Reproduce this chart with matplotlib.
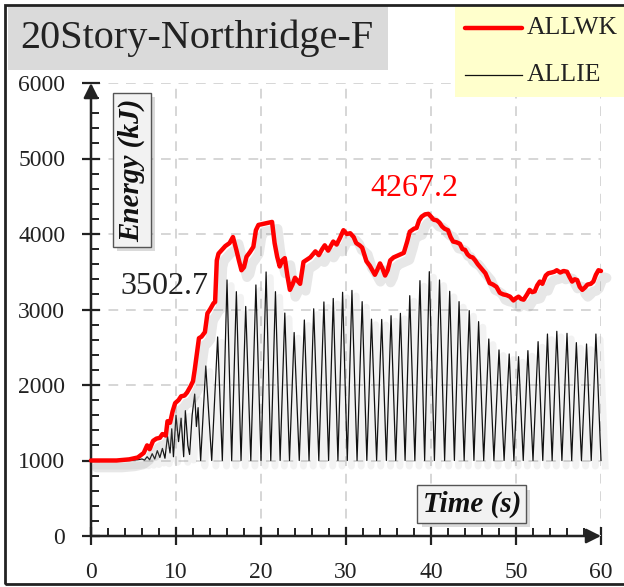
import numpy as np
import matplotlib
matplotlib.use("Agg")
import matplotlib.pyplot as plt
import matplotlib.ticker as ticker
import matplotlib.patheffects as pe
from matplotlib import font_manager
from matplotlib.patches import Rectangle
from matplotlib.lines import Line2D

# make sure the Times-like serif is picked up
for f in font_manager.findSystemFonts():
    if 'LiberationSerif' in f:
        font_manager.fontManager.addfont(f)
plt.rcParams['font.family'] = ['Liberation Serif', 'DejaVu Serif']

# ALLWK (red, external work)
wk_t = [0, 3, 4.5, 5.5, 6.2, 6.6, 6.9, 7.3, 7.7, 8.1, 8.4, 8.8, 9.0, 9.3, 9.6, 9.9,
        10.3, 10.6, 11.0, 11.3, 11.7, 12.0, 12.2, 12.5, 12.7, 13.0, 13.4, 13.7, 14.0,
        14.4, 14.6, 14.8, 15.0, 15.4, 15.8, 16.3, 16.7, 17.1, 17.4, 17.7, 18.0, 18.3,
        18.7, 19.1, 19.4, 19.7, 20.5, 21.3, 21.6, 21.9, 22.2, 22.5, 22.8, 23.1, 23.4,
        23.7, 24.0, 24.3, 24.6, 25.0, 25.4, 25.8, 26.4, 26.8, 27.2, 27.5, 27.9, 28.5,
        28.9, 29.3, 29.7, 30.1, 30.5, 30.9, 31.2, 31.6, 31.9, 32.4, 32.8, 33.1, 33.4,
        33.7, 34.0, 34.3, 34.6, 34.9, 35.2, 35.6, 36.2, 36.8, 37.2, 37.5, 38.0, 38.3,
        38.6, 38.9, 39.3, 39.7, 40.0, 40.3, 40.7, 41.0, 41.3, 41.6, 42.0, 42.3, 42.6,
        43.0, 43.4, 43.7, 44.0, 44.3, 44.6, 44.9, 45.2, 45.5, 45.8, 46.1, 46.4, 46.7,
        46.9, 47.3, 47.7, 48.1, 48.5, 48.9, 49.3, 49.7, 50.0, 50.3, 50.6, 50.9, 51.3,
        51.6, 51.9, 52.2, 52.5, 52.8, 53.1, 53.5, 53.8, 54.2, 54.5, 54.8, 55.2, 55.6,
        56.0, 56.3, 56.6, 56.9, 57.2, 57.5, 57.8, 58.1, 58.4, 58.8, 59.1, 59.4, 59.7, 60.0]
wk_v = [1000, 1000, 1015, 1040, 1100, 1200, 1150, 1260, 1290, 1300, 1350, 1330, 1520,
        1500, 1650, 1760, 1800, 1850, 1860, 1900, 1980, 2050, 2200, 2450, 2620, 2640,
        2700, 2950, 3000, 3080, 3100, 3650, 3740, 3790, 3840, 3880, 3960, 3790, 3650,
        3520, 3560, 3700, 3760, 3830, 4050, 4120, 4140, 4160, 3880, 3700, 3570, 3650,
        3680, 3450, 3260, 3330, 3420, 3380, 3340, 3630, 3660, 3690, 3770, 3720, 3800,
        3850, 3780, 3900, 3860, 3950, 4050, 4000, 4010, 3960, 3880, 3850, 3820, 3640,
        3580, 3520, 3460, 3530, 3610, 3540, 3450, 3520, 3650, 3690, 3720, 3750, 3900,
        4030, 4070, 4080, 4180, 4230, 4260, 4267, 4230, 4190, 4180, 4150, 4100, 4070,
        4050, 3960, 3900, 3890, 3870, 3800, 3790, 3730, 3700, 3690, 3650, 3600, 3560,
        3520, 3480, 3400, 3350, 3330, 3300, 3220, 3200, 3190, 3170, 3120, 3150, 3170,
        3140, 3130, 3200, 3260, 3230, 3240, 3320, 3370, 3340, 3450, 3480, 3490, 3500,
        3520, 3490, 3510, 3500, 3430, 3370, 3400, 3390, 3300, 3260, 3290, 3330, 3340,
        3370, 3460, 3520, 3510]

# ALLIE (black, internal energy) - troughs and peaks
ie_t = [0, 4.0, 5.5, 6.0, 6.3, 6.6, 6.9, 7.2, 7.5, 7.8, 8.1, 8.4, 8.7, 9.0, 9.3, 9.5,
        9.7, 10.0, 10.3, 10.6, 10.9, 11.1, 11.4, 11.6, 11.9, 12.2, 12.4, 12.6, 12.9,
        13.5, 14.2, 14.9, 15.45, 16.0, 16.55, 17.1, 17.65, 18.2, 18.8, 19.4, 20.0,
        20.6, 21.15, 21.7, 22.25, 22.8, 23.35, 23.9, 24.5, 25.1, 25.65, 26.2, 26.8,
        27.4, 27.95, 28.5, 29.05, 29.6, 30.15, 30.7, 31.3, 31.9, 32.45, 33.0, 33.6,
        34.2, 34.75, 35.3, 35.85, 36.4, 36.95, 37.5, 38.1, 38.7, 39.25, 39.8, 40.4,
        41.0, 41.6, 42.2, 42.75, 43.3, 43.9, 44.5, 45.05, 45.6, 46.2, 46.8, 47.4,
        48.0, 48.6, 49.2, 49.75, 50.3, 50.85, 51.4, 52.0, 52.6, 53.15, 53.7, 54.25,
        54.8, 55.4, 56.0, 56.55, 57.1, 57.7, 58.3, 58.85, 59.4, 60.0]
ie_v = [1000, 1000, 1010, 1020, 1005, 1050, 1010, 1090, 1020, 1130, 1040, 1160, 1030,
        1320, 1100, 1420, 1050, 1600, 1250, 1560, 1050, 1660, 1200, 1080, 1600, 1880,
        1450, 1700, 1000,
        2252, 1000, 2636, 1000, 3391, 1000, 3236, 1000, 3040, 1000, 3325, 1000,
        3497, 1000, 3236, 1000, 2953, 1000, 2695, 1000, 2861, 1000, 3009, 1000,
        3100, 1000, 3146, 1000, 3228, 1000, 3253, 1000, 3104, 1000, 2872, 1000,
        2868, 1000, 2918, 1000, 2949, 1000, 3183, 1000, 3382, 1000, 3501, 1000,
        3391, 1000, 3241, 1000, 3104, 1000, 2985, 1000, 2839, 1000, 2609, 1000,
        2464, 1000, 2411, 1000, 2375, 1000, 2455, 1000, 2574, 1000, 2675, 1000,
        2711, 1000, 2684, 1000, 2561, 1000, 2543, 1000, 2675, 1000]

title = "20Story-Northridge-F"
ie_max_label = "3502.7"
wk_max_label = "4267.2"

W, H = 624, 587
fig = plt.figure(figsize=(W / 100, H / 100), dpi=100)

# axes placed in pixel terms: x 0->91px, 60->601px ; y 0->536px, 6000->83px
ax = fig.add_axes([91 / W, 1 - 536 / H, 510 / W, 453 / H])
ax.set_xlim(0, 60)
ax.set_ylim(0, 6000)

for s in ax.spines.values():
    s.set_visible(False)

ax.xaxis.set_major_locator(ticker.MultipleLocator(10))
ax.xaxis.set_minor_locator(ticker.MultipleLocator(2))
ax.yaxis.set_major_locator(ticker.MultipleLocator(1000))
ax.yaxis.set_minor_locator(ticker.MultipleLocator(200))
ax.tick_params(which='major', direction='inout', length=13, width=1.6, color='#222',
               labelsize=17, pad=12)
ax.tick_params(which='minor', direction='in', length=6, width=1.4, color='#222')
ax.tick_params(axis='both', labelcolor='#222')

ax.grid(True, which='major', color='#d6d6d6', linestyle=(0, (5, 4)), linewidth=1.4)
ax.set_axisbelow(True)

# axis lines with arrow heads
ax.annotate('', xy=(0, 6000), xytext=(0, 0),
            arrowprops=dict(arrowstyle='-|>', color='#222', lw=1.8, mutation_scale=22,
                            shrinkA=0, shrinkB=0), annotation_clip=False)
ax.annotate('', xy=(60, 0), xytext=(0, 0),
            arrowprops=dict(arrowstyle='-|>', color='#222', lw=1.8, mutation_scale=22,
                            shrinkA=0, shrinkB=0), annotation_clip=False)

ax.plot(ie_t, ie_v, color='#111', lw=0.9, clip_on=False, zorder=3,
        path_effects=[pe.SimpleLineShadow(offset=(3, -4), shadow_color='#999', alpha=0.12,
                                          linewidth=5),
                      pe.Normal()])
ax.plot(wk_t, wk_v, color='#ff0000', lw=3.2, clip_on=False, zorder=4,
        solid_joinstyle='round', solid_capstyle='round',
        path_effects=[pe.SimpleLineShadow(offset=(4, -5), shadow_color='#888', alpha=0.2,
                                          linewidth=7),
                      pe.Normal()])

ax.text(8.6, 3300, ie_max_label, fontsize=23, color='#222', ha='center', va='center')
ax.text(38.0, 4600, wk_max_label, fontsize=23, color='#ff0000', ha='center', va='center')

box = dict(boxstyle='square,pad=0.18', fc='#f2f2f2', ec='#555', lw=1.0)
t1 = ax.text(4.8, 4850, 'Energy (kJ)', rotation=90, fontsize=21, fontweight='bold',
             fontstyle='italic', ha='center', va='center', color='#111', bbox=box, zorder=6)
t2 = ax.text(44.8, 420, 'Time (s)', fontsize=21, fontweight='bold', fontstyle='italic',
             ha='center', va='center', color='#111', bbox=box, zorder=6)
for t in (t1, t2):
    t.get_bbox_patch().set_path_effects([pe.SimplePatchShadow(offset=(3, -3), alpha=0.2),
                                         pe.Normal()])

# title box
fig.patches.append(Rectangle((8 / W, 1 - 70 / H), 380 / W, 64 / H, transform=fig.transFigure,
                             fc='#dadada', ec='none', zorder=0))
fig.text(20 / W, 1 - 38 / H, title, fontsize=29, color='#222', ha='left', va='center')

# legend box
fig.patches.append(Rectangle((455 / W, 1 - 97 / H), 200 / W, 91 / H, transform=fig.transFigure,
                             fc='#ffffcc', ec='none', zorder=0))
fig.lines.append(Line2D([465 / W, 522 / W], [1 - 28 / H, 1 - 28 / H], transform=fig.transFigure,
                        color='#ff0000', lw=3.2, solid_capstyle='round'))
fig.lines.append(Line2D([465 / W, 522 / W], [1 - 75 / H, 1 - 75 / H], transform=fig.transFigure,
                        color='#111', lw=0.9))
fig.text(527 / W, 1 - 28 / H, 'ALLWK', fontsize=18.5, color='#222', ha='left', va='center')
fig.text(527 / W, 1 - 75 / H, 'ALLIE', fontsize=18.5, color='#222', ha='left', va='center')

# outer frame
fig.patches.append(Rectangle((5 / W, 3 / H), 700 / W, 1 - 8 / H, transform=fig.transFigure,
                             fill=False, ec='#222', lw=2, zorder=10))

fig.savefig('out.png', dpi=100)
